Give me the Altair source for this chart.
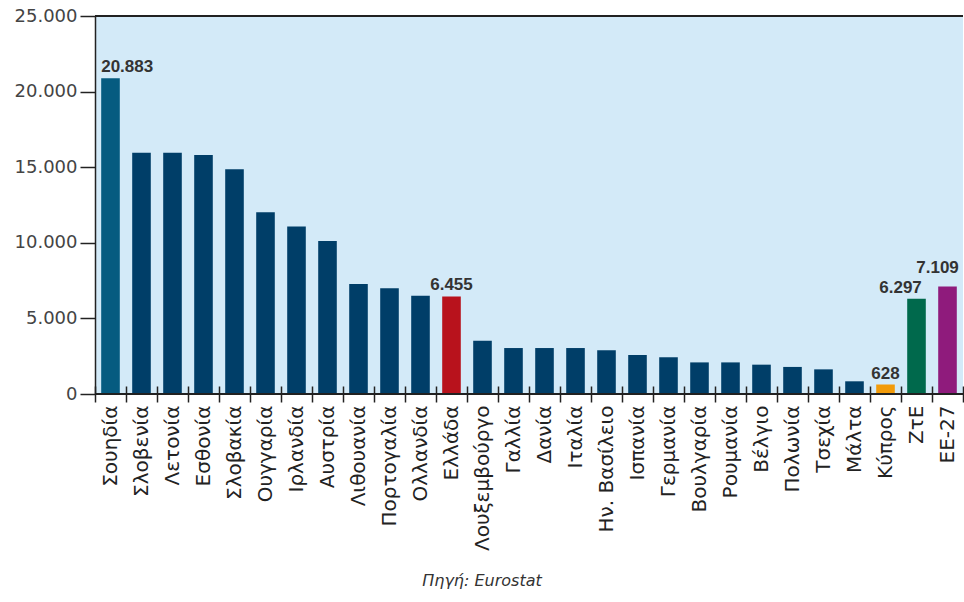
import altair as alt
import pandas as pd

# Countries in chart order (left to right)
countries = [
    "Σουηδία", "Σλοβενία", "Λετονία", "Εσθονία", "Σλοβακία", "Ουγγαρία",
    "Ιρλανδία", "Αυστρία", "Λιθουανία", "Πορτογαλία", "Ολλανδία", "Ελλάδα",
    "Λουξεμβούργο", "Γαλλία", "Δανία", "Ιταλία", "Ην. Βασίλειο", "Ισπανία",
    "Γερμανία", "Βουλγαρία", "Ρουμανία", "Βέλγιο", "Πολωνία", "Τσεχία",
    "Μάλτα", "Κύπρος", "ΖτΕ", "ΕΕ-27",
]
values = [
    20883, 15950, 15950, 15800, 14860, 12020,
    11070, 10120, 7270, 6990, 6500, 6455,
    3530, 3040, 3040, 3040, 2900, 2580,
    2430, 2090, 2090, 1940, 1790, 1630,
    840, 628, 6297, 7109,
]
labelled_left = ["Σουηδία"]
labelled_center = ["Ελλάδα", "Κύπρος"]
labelled_right = ["ΖτΕ"]
labelled_raised = ["ΕΕ-27"]
y_ticks = [0, 5000, 10000, 15000, 20000, 25000]

NAVY = "#003e68"
highlight = {
    "Σουηδία": "#065b80",
    "Ελλάδα": "#b8121c",
    "Κύπρος": "#f29b0a",
    "ΖτΕ": "#00694c",
    "ΕΕ-27": "#8f1b7c",
}
bar_colors = [highlight.get(c, NAVY) for c in countries]

df = pd.DataFrame({"country": countries, "value": values})
df["label"] = [f"{v:,}".replace(",", ".") for v in values]

AXIS_FONT = "DejaVu Sans"
DARK = "#222222"
BAR_FRACTION = 0.6

x_scale = alt.Scale(paddingInner=0, paddingOuter=0)
y_scale = alt.Scale(domain=[0, 25000], nice=False)

base = alt.Chart(df)

bars = base.mark_bar(width=alt.RelativeBandSize(BAR_FRACTION)).encode(
    x=alt.X(
        "country:N", sort=countries, scale=x_scale,
        axis=alt.Axis(
            title=None, orient="bottom", offset=-8, domain=False,
            tickBand="extent", tickSize=16, tickWidth=1.5, tickColor=DARK,
            labelAngle=-90, labelPadding=3, labelFont=AXIS_FONT,
            labelFontSize=20, labelColor=DARK,
        ),
    ),
    y=alt.Y(
        "value:Q", scale=y_scale,
        axis=alt.Axis(
            title=None, values=y_ticks, grid=False,
            labelExpr="replace(format(datum.value, ','), ',', '.')",
            tickSize=15, tickWidth=1.5, tickColor=DARK,
            domainColor=DARK, domainWidth=1.5,
            labelPadding=3, labelFont=AXIS_FONT, labelFontSize=18,
            labelColor="#444444",
        ),
    ),
    color=alt.Color(
        "country:N", scale=alt.Scale(domain=countries, range=bar_colors),
        legend=None,
    ),
)

text_style = dict(baseline="bottom", font="Liberation Sans",
                  fontSize=17, fontWeight="bold", color="#333333")

edge = (1 - BAR_FRACTION) / 2


def value_labels(names, align, band_pos, dx, dy):
    return base.transform_filter(
        alt.FieldOneOfPredicate(field="country", oneOf=names)
    ).mark_text(align=align, dx=dx, dy=dy, **text_style).encode(
        x=alt.X("country:N", sort=countries, scale=x_scale,
                bandPosition=band_pos),
        y=alt.Y("value:Q", scale=y_scale),
        text="label:N",
    )


labels_left = value_labels(labelled_left, "left", edge, 0, -2)
labels_center = value_labels(labelled_center, "center", 0.5, 0, -2)
labels_right = value_labels(labelled_right, "right", 1 - edge, -4, -2)
labels_raised = value_labels(labelled_raised, "right", 1 - edge, 2, -10)

# Baseline and top frame lines
baseline = alt.Chart(df).mark_rule(color=DARK, strokeWidth=1.5).encode(
    y=alt.Y(datum=0, scale=y_scale)
)
topline = alt.Chart(df).mark_rule(color=DARK, strokeWidth=1.5).encode(
    y=alt.Y(datum=25000, scale=y_scale)
)

chart = alt.layer(
    bars, baseline, topline,
    labels_left, labels_center, labels_right, labels_raised,
).properties(
    width=868,
    height=378,
    autosize=alt.AutoSizeParams(type="none"),
    padding={"left": 95, "top": 16, "right": 1, "bottom": 208},
    title=alt.TitleParams(
        "Πηγή: Eurostat", orient="bottom", anchor="middle",
        font="DejaVu Sans", fontSize=16, fontStyle="italic",
        fontWeight="normal", color="#333333", dx=-47, offset=22,
    ),
    background="white",
).configure_view(
    fill="#d3eaf8", stroke=None
)

chart.save("out.html", embed_options={"renderer": "svg", "actions": False})
